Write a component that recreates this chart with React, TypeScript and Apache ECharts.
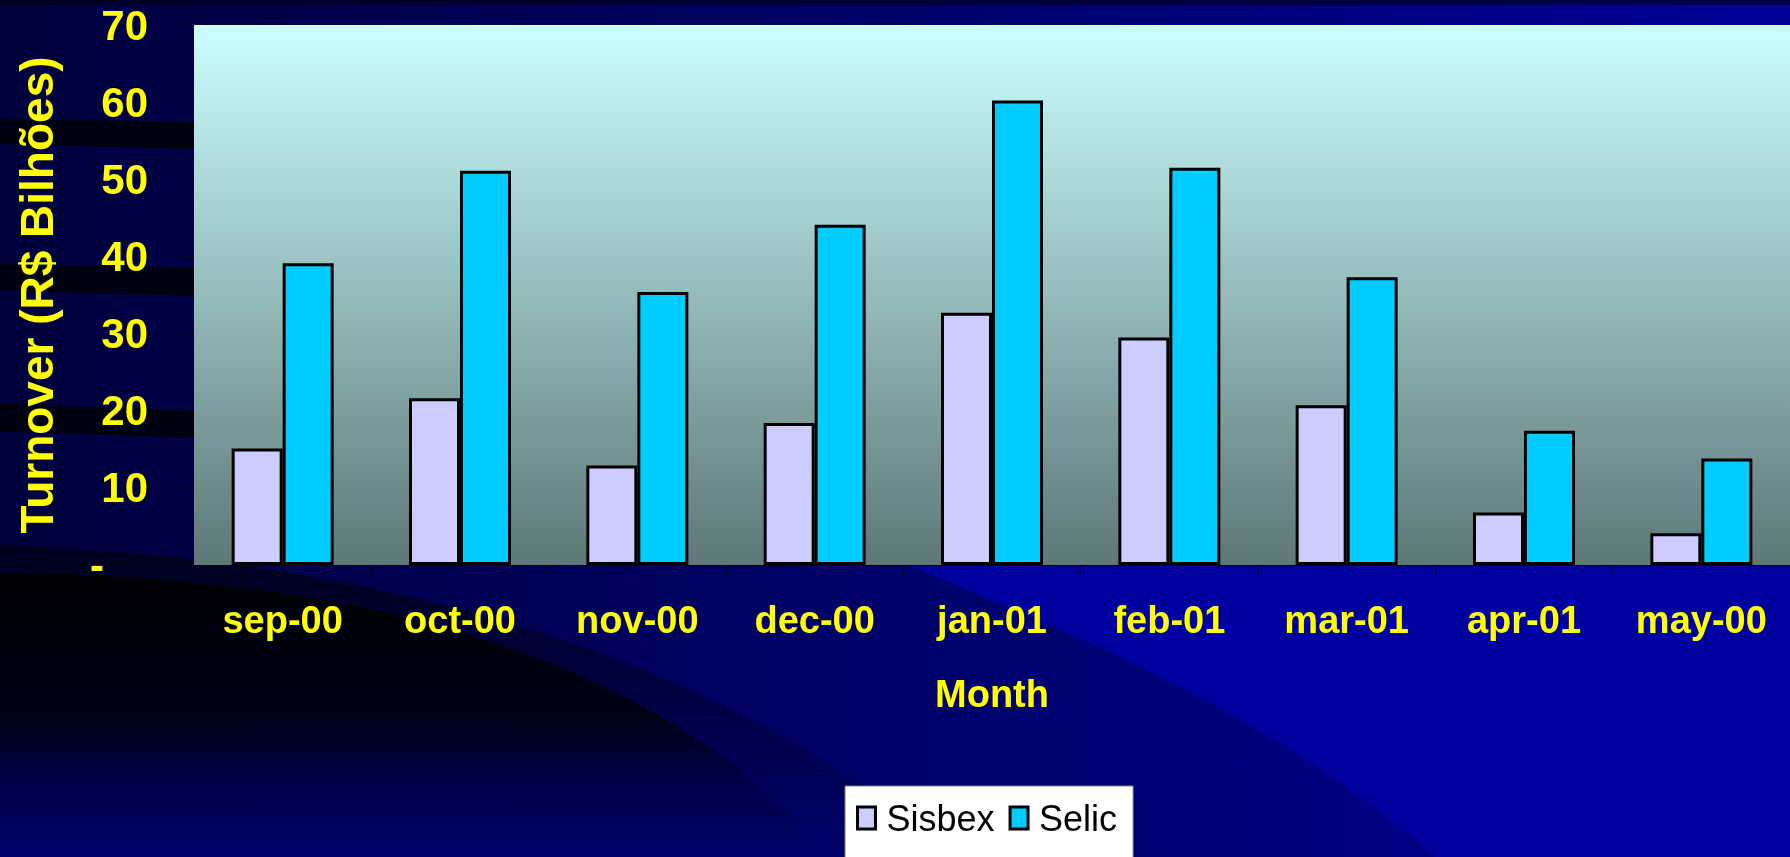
import React, { useEffect, useRef } from 'react';
import * as echarts from 'echarts';

// Monthly turnover, R$ billions
const months = ['sep-00', 'oct-00', 'nov-00', 'dec-00', 'jan-01', 'feb-01', 'mar-01', 'apr-01', 'may-00'];
const sisbex = [15.1, 21.6, 12.9, 18.4, 32.7, 29.5, 20.7, 6.8, 4.1];
const selic = [39.1, 51.1, 35.4, 44.1, 60.2, 51.5, 37.3, 17.4, 13.8];
const seriesNames = ['Sisbex', 'Selic'];
const axisTitleY = 'Turnover (R$ Bilhões)';
const axisTitleX = 'Month';

const FONT = "'Liberation Sans', Arial, sans-serif";
const YELLOW = '#FFFF00';

// Decorative slide-background swooshes
echarts.graphic.registerShape(
  'swooshBright',
  echarts.graphic.extendPath('M700,470 C900,580 1200,650 1435,857 L1790,857 L1790,470 Z', {})
);
echarts.graphic.registerShape(
  'swooshMid',
  echarts.graphic.extendPath('M0,545 C250,555 650,600 960,857 L0,857 Z', {})
);
echarts.graphic.registerShape(
  'swooshDark',
  echarts.graphic.extendPath('M0,573 C250,575 620,610 830,857 L0,857 Z', {})
);

const vGrad = (stops: [number, string][]) =>
  new echarts.graphic.LinearGradient(0, 0, 0, 1, stops.map(([offset, color]) => ({ offset, color })));

export default function App() {
  const ref = useRef<HTMLDivElement>(null);

  useEffect(() => {
    if (!ref.current) return;
    const chart = echarts.init(ref.current, null, { renderer: 'svg' });

    const option: any = {
      animation: false,
      backgroundColor: 'transparent',
      graphic: [
        {
          type: 'rect',
          z: -100,
          shape: { x: 0, y: 0, width: 1790, height: 857 },
          style: {
            fill: new echarts.graphic.LinearGradient(0, 0, 1, 0, [
              { offset: 0, color: '#00003c' },
              { offset: 1, color: '#000096' },
            ]),
          },
        },
        { type: 'rect', z: -99, shape: { x: 0, y: 0, width: 1790, height: 5 }, style: { fill: 'rgba(0,0,20,0.6)' } },
        { type: 'polygon', z: -99, shape: { points: [[0, 119], [200, 122], [200, 149], [0, 144]] }, style: { fill: '#00000f' } },
        { type: 'polygon', z: -99, shape: { points: [[0, 264], [200, 268], [200, 296], [0, 290]] }, style: { fill: '#00000f' } },
        { type: 'polygon', z: -99, shape: { points: [[0, 403], [200, 411], [200, 438], [0, 431]] }, style: { fill: '#00000f' } },
        { type: 'swooshBright', z: -98, x: 0, y: 0, style: { fill: '#00009e' } },
        {
          type: 'swooshMid',
          z: -97,
          x: 0,
          y: 0,
          style: {
            fill: vGrad([
              [0, '#00001c'],
              [1, '#00006c'],
            ]),
          },
        },
        {
          type: 'swooshDark',
          z: -96,
          x: 0,
          y: 0,
          style: {
            fill: vGrad([
              [0, '#000004'],
              [0.5, '#000016'],
              [0.75, '#00004a'],
              [1, '#00006c'],
            ]),
          },
        },
      ],
      grid: {
        left: 194,
        top: 25,
        right: 0,
        bottom: 292,
        show: true,
        borderWidth: 0,
        backgroundColor: vGrad([
          [0, '#ccffff'],
          [1, '#5e7777'],
        ]),
      },
      legend: {
        data: seriesNames,
        left: 845,
        top: 786,
        orient: 'horizontal',
        backgroundColor: '#ffffff',
        borderColor: '#808080',
        borderWidth: 1,
        borderRadius: 0,
        padding: [14, 16, 80, 11],
        itemGap: 14,
        itemWidth: 18,
        itemHeight: 22,
        icon: 'rect',
        itemStyle: { borderColor: '#000000', borderWidth: 3 },
        textStyle: { color: '#000000', fontSize: 36, fontFamily: FONT, padding: [0, 0, 0, 6] },
      },
      xAxis: {
        type: 'category',
        data: months,
        boundaryGap: true,
        axisLine: { show: true, lineStyle: { color: '#000022', width: 1 } },
        axisTick: { show: true, length: 10, inside: false, lineStyle: { color: '#000022' } },
        axisLabel: {
          color: YELLOW,
          fontSize: 38,
          fontWeight: 'bold',
          fontFamily: FONT,
          margin: 36,
          interval: 0,
        },
        name: axisTitleX,
        nameLocation: 'middle',
        nameGap: 110,
        nameTextStyle: { color: YELLOW, fontSize: 38, fontWeight: 'bold', fontFamily: FONT },
      },
      yAxis: {
        type: 'value',
        min: 0,
        max: 70,
        interval: 10,
        splitLine: { show: false },
        axisLine: { show: false },
        axisTick: { show: true, length: 13, inside: false, lineStyle: { color: '#000022' } },
        axisLabel: {
          color: YELLOW,
          fontSize: 42,
          fontWeight: 'bold',
          fontFamily: FONT,
          margin: 46,
          formatter: (v: number) => (v === 0 ? '{z|-}' : String(v)),
          rich: {
            z: { color: YELLOW, fontSize: 42, fontWeight: 'bold', fontFamily: FONT, padding: [0, 44, 0, 0] },
          },
        },
        name: axisTitleY,
        nameLocation: 'middle',
        nameRotate: 90,
        nameGap: 134,
        nameTextStyle: { color: YELLOW, fontSize: 46, fontWeight: 'bold', fontFamily: FONT },
      },
      series: [
        {
          name: seriesNames[0],
          type: 'bar',
          data: sisbex,
          barWidth: 51,
          barGap: '0%',
          itemStyle: { color: '#ccccff', borderColor: '#000000', borderWidth: 3 },
        },
        {
          name: seriesNames[1],
          type: 'bar',
          data: selic,
          barWidth: 51,
          barGap: '0%',
          itemStyle: { color: '#00ccff', borderColor: '#000000', borderWidth: 3 },
        },
      ],
    };

    chart.setOption(option);
    return () => chart.dispose();
  }, []);

  return (
    <div
      ref={ref}
      style={{ position: 'fixed', left: 0, top: 0, width: 1790, height: 857 }}
    />
  );
}
